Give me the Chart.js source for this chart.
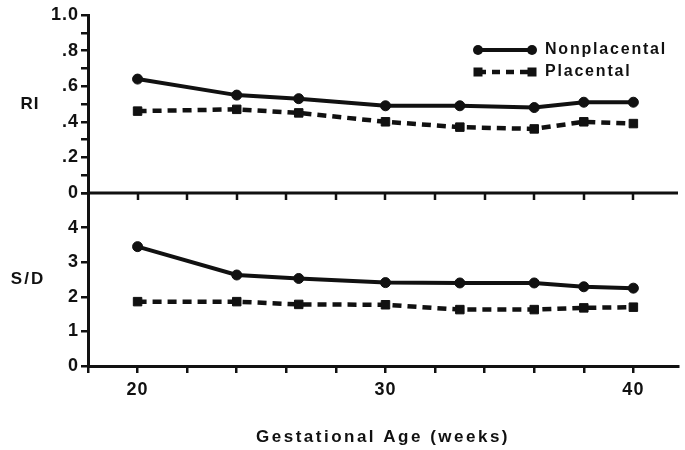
<!DOCTYPE html>
<html>
<head>
<meta charset="utf-8">
<script src="https://cdn.jsdelivr.net/npm/chart.js@4.4.1/dist/chart.umd.min.js"></script>
<style>
html, body { margin: 0; padding: 0; background: #ffffff; }
#wrap { width: 685px; height: 450px; }
</style>
</head>
<body>
<div id="wrap"><canvas id="c" width="685" height="450"></canvas></div>
<script>
// ---- data ----
const weeks = [20, 24, 26.5, 30, 33, 36, 38, 40];
const riNonplacental = [0.64, 0.55, 0.53, 0.49, 0.49, 0.48, 0.51, 0.51];
const riPlacental    = [0.46, 0.47, 0.45, 0.40, 0.37, 0.36, 0.40, 0.39];
const sdNonplacental = [3.45, 2.63, 2.53, 2.41, 2.40, 2.40, 2.29, 2.25];
const sdPlacental    = [1.86, 1.86, 1.78, 1.77, 1.63, 1.63, 1.68, 1.70];
const xTickLabels  = [20, 30, 40];
const riTickLabels = ['0', '.2', '.4', '.6', '.8', '1.0'];
const sdTickLabels = ['0', '1', '2', '3', '4'];
const seriesNames  = ['Nonplacental', 'Placental'];
const panelTitles  = ['RI', 'S/D'];
const xTitle = 'Gestational Age (weeks)';

const INK = '#111111';
const FONT = "'Liberation Sans', Arial, sans-serif";
Chart.defaults.font.family = FONT;
Chart.defaults.font.weight = 'bold';
Chart.defaults.font.size = 18;
Chart.defaults.color = INK;

function pts(xs, ys) { return xs.map((x, i) => ({ x: x, y: ys[i] })); }

const solid = { borderColor: INK, backgroundColor: INK, borderWidth: 4, pointStyle: 'circle',
  pointRadius: 5, pointBorderWidth: 1, tension: 0, fill: false };
const dashed = { borderColor: INK, backgroundColor: INK, borderWidth: 4.5, borderDash: [9, 6],
  pointStyle: 'rect', pointRadius: 6, pointBorderWidth: 1, tension: 0, fill: false };

const decor = {
  id: 'decor',
  beforeLayout(chart) { chart.ctx.letterSpacing = '1px'; },
  beforeDraw(chart) {
    const ctx = chart.ctx;
    ctx.save();
    ctx.fillStyle = '#ffffff';
    ctx.fillRect(0, 0, chart.width, chart.height);
    ctx.restore();
    ctx.letterSpacing = '1px';
  },
  afterDraw(chart) {
    const { ctx, chartArea: a, scales } = chart;
    const xs = scales.x, ri = scales.yRI, sd = scales.ySD;
    ctx.save();
    ctx.strokeStyle = INK;
    ctx.fillStyle = INK;
    // divider line between panels (RI zero line) with its tick marks
    const ym = Math.round(ri.getPixelForValue(0));
    ctx.lineWidth = 3;
    ctx.beginPath();
    ctx.moveTo(a.left - 1, ym);
    ctx.lineTo(a.right, ym);
    ctx.stroke();
    ctx.lineWidth = 2.5;
    xs.ticks.forEach(t => {
      const px = Math.round(xs.getPixelForValue(t.value));
      if (px <= a.left + 2) return;
      ctx.beginPath();
      ctx.moveTo(px, ym);
      ctx.lineTo(px, ym + 7);
      ctx.stroke();
    });
    // panel titles
    ctx.font = 'bold 17px ' + FONT;
    ctx.letterSpacing = '1px';
    ctx.textAlign = 'center';
    ctx.textBaseline = 'middle';
    ctx.fillText(panelTitles[0], 30, ri.getPixelForValue(0.5));
    ctx.letterSpacing = '2px';
    ctx.fillText(panelTitles[1], 28, sd.getPixelForValue(2.5));
    // x axis title
    ctx.font = 'bold 17px ' + FONT;
    ctx.letterSpacing = '2.5px';
    ctx.fillText(xTitle, (a.left + a.right) / 2, a.bottom + 71);
    // legend
    const lx0 = 478, lx1 = 532, ly0 = 50, ly1 = 72;
    ctx.lineWidth = 4;
    ctx.setLineDash([]);
    ctx.beginPath(); ctx.moveTo(lx0, ly0); ctx.lineTo(lx1, ly0); ctx.stroke();
    [lx0, lx1].forEach(px => { ctx.beginPath(); ctx.arc(px, ly0, 5, 0, Math.PI * 2); ctx.fill(); });
    ctx.lineWidth = 4.5;
    ctx.setLineDash([8, 6]);
    ctx.beginPath(); ctx.moveTo(lx0, ly1); ctx.lineTo(lx1, ly1); ctx.stroke();
    ctx.setLineDash([]);
    [lx0, lx1].forEach(px => { ctx.fillRect(px - 4.5, ly1 - 4.5, 9, 9); });
    ctx.font = 'bold 16px ' + FONT;
    ctx.textAlign = 'left';
    ctx.letterSpacing = '1.8px';
    ctx.fillText(seriesNames[0], 545, ly0);
    ctx.fillText(seriesNames[1], 545, ly1);
    ctx.restore();
  }
};

const gridOpts = { drawOnChartArea: false, color: INK, lineWidth: 2.5, tickLength: 7 };
const borderOpts = { color: INK, width: 3 };

new Chart(document.getElementById('c').getContext('2d'), {
  type: 'line',
  data: {
    datasets: [
      Object.assign({ label: seriesNames[0] + ' RI', data: pts(weeks, riNonplacental), yAxisID: 'yRI' }, solid),
      Object.assign({ label: seriesNames[1] + ' RI', data: pts(weeks, riPlacental), yAxisID: 'yRI' }, dashed),
      Object.assign({ label: seriesNames[0] + ' S/D', data: pts(weeks, sdNonplacental), yAxisID: 'ySD' }, solid),
      Object.assign({ label: seriesNames[1] + ' S/D', data: pts(weeks, sdPlacental), yAxisID: 'ySD' }, dashed)
    ]
  },
  options: {
    responsive: false,
    animation: false,
    devicePixelRatio: 1,
    layout: { padding: { top: 15, right: 2, left: 0, bottom: 0 } },
    plugins: { legend: { display: false }, tooltip: { enabled: false } },
    scales: {
      x: {
        type: 'linear', position: 'bottom', min: 18, max: 41.8, bounds: 'data',
        ticks: { stepSize: 2, includeBounds: false, autoSkip: false, maxRotation: 0, padding: 6,
          callback: v => (xTickLabels.includes(v) ? String(v) : '') },
        grid: gridOpts, border: borderOpts,
        afterFit: s => { s.height = 84; }
      },
      ySD: {
        type: 'linear', position: 'left', stack: 'panels', stackWeight: 173, min: 0, max: 5,
        ticks: { stepSize: 1, autoSkip: false, padding: 2,
          callback: v => (sdTickLabels[Math.round(v)] !== undefined ? sdTickLabels[Math.round(v)] : '') },
        grid: gridOpts, border: borderOpts,
        afterFit: s => { s.width = 88; }
      },
      yRI: {
        type: 'linear', position: 'left', stack: 'panels', stackWeight: 178, min: 0, max: 1,
        ticks: { stepSize: 0.1, autoSkip: false, padding: 2,
          callback: v => { const n = Math.round(v * 10); return n % 2 === 0 ? riTickLabels[n / 2] : ''; } },
        grid: gridOpts, border: borderOpts,
        afterFit: s => { s.width = 88; }
      }
    }
  },
  plugins: [decor]
});
</script>
</body>
</html>
